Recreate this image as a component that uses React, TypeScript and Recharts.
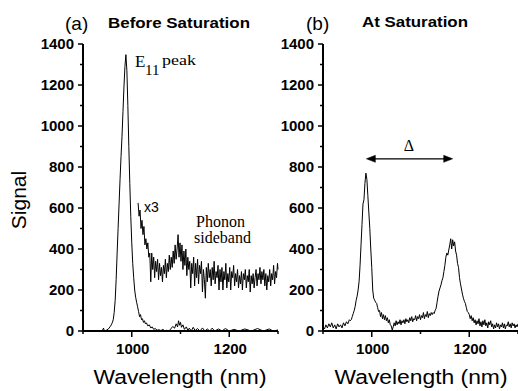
import React from 'react';
import { LineChart, Line, XAxis, YAxis, ReferenceLine, ReferenceDot } from 'recharts';

const wavelengthTicks = [900, 1000, 1100, 1200, 1300];
const majorWavelengthTicks = [1000, 1200];
const signalTicks = [0, 100, 200, 300, 400, 500, 600, 700, 800, 900, 1000, 1100, 1200, 1300, 1400];
const majorSignalTicks = [0, 200, 400, 600, 800, 1000, 1200, 1400];

// Panel (a): E11 emission before saturation
const beforeSaturation: [number, number][] = [
  [900, 0], [905, 2], [910, 0], [915, 1], [920, 0], [925, 2], [930, 0], [935, 1], [940, 3], [942, 14], [944, 0],
  [948, 4], [952, 10], [956, 22], [958, 30], [960, 40], [962, 55], [964, 90], [966, 150], [968, 250], [970, 380],
  [972, 500], [974, 620], [976, 740], [978, 850], [980, 950], [982, 1070], [984, 1190], [986, 1290], [988, 1348],
  [990, 1270], [992, 1100], [994, 900], [996, 720], [998, 560], [1000, 430], [1002, 330], [1004, 260], [1006, 200],
  [1008, 165], [1010, 140], [1012, 118], [1014, 95], [1016, 70], [1018, 80], [1020, 55], [1022, 60], [1024, 42],
  [1026, 50], [1028, 35], [1030, 40], [1033, 25], [1036, 30], [1039, 15], [1042, 20], [1045, 8], [1048, 12],
  [1052, 4], [1056, 6], [1060, 2], [1064, 8], [1068, 0], [1072, 4], [1076, 0], [1080, 10], [1084, 22], [1088, 14],
  [1091, 35], [1094, 20], [1096, 50], [1098, 28], [1100, 42], [1102, 18], [1105, 30], [1108, 8], [1112, 20],
  [1115, 3], [1118, 14], [1122, 0], [1126, 18], [1130, 2], [1135, 12], [1140, 0], [1145, 15], [1150, 0], [1155, 10],
  [1160, 0], [1165, 14], [1170, 0], [1178, 10], [1185, 0], [1192, 12], [1200, 0], [1210, 8], [1220, 0], [1232, 10],
  [1245, 0], [1258, 12], [1270, 0], [1282, 10], [1290, 0], [1300, 5],
];

// Panel (a): phonon sideband magnified x3
const phononSidebandX3: [number, number][] = [
  [1013, 625], [1015, 560], [1017, 590], [1019, 500], [1021, 540], [1023, 470], [1025, 510], [1027, 420], [1029, 450],
  [1031, 400], [1033, 430], [1035, 360], [1037, 380], [1039, 240], [1041, 380], [1043, 300], [1045, 360], [1047, 260],
  [1049, 340], [1051, 290], [1053, 350], [1055, 250], [1057, 330], [1059, 270], [1061, 310], [1063, 240], [1065, 320],
  [1067, 280], [1069, 350], [1071, 260], [1073, 330], [1075, 290], [1077, 370], [1079, 300], [1081, 360], [1083, 310],
  [1085, 390], [1087, 330], [1089, 420], [1091, 350], [1093, 400], [1095, 470], [1097, 360], [1099, 430], [1101, 340],
  [1103, 420], [1105, 300], [1107, 390], [1109, 320], [1111, 400], [1113, 270], [1115, 360], [1117, 300], [1119, 340],
  [1121, 210], [1123, 330], [1125, 280], [1127, 360], [1129, 220], [1131, 330], [1133, 260], [1135, 350], [1137, 230],
  [1139, 320], [1141, 280], [1143, 340], [1145, 190], [1147, 300], [1149, 250], [1151, 160], [1153, 310], [1155, 240],
  [1157, 330], [1159, 260], [1161, 300], [1163, 220], [1165, 310], [1167, 250], [1169, 340], [1171, 230], [1173, 290],
  [1175, 260], [1177, 320], [1179, 200], [1181, 300], [1183, 240], [1185, 310], [1187, 200], [1189, 290], [1191, 250],
  [1193, 330], [1195, 210], [1197, 280], [1199, 240], [1201, 310], [1203, 200], [1205, 290], [1207, 260], [1209, 320],
  [1211, 220], [1213, 280], [1215, 240], [1217, 300], [1219, 210], [1221, 270], [1223, 230], [1225, 290], [1227, 200],
  [1229, 280], [1231, 250], [1233, 300], [1235, 210], [1237, 270], [1239, 240], [1241, 300], [1243, 190], [1245, 270],
  [1247, 230], [1249, 280], [1251, 210], [1253, 260], [1255, 300], [1257, 220], [1259, 280], [1261, 250], [1263, 310],
  [1265, 230], [1267, 290], [1269, 250], [1271, 300], [1273, 220], [1275, 280], [1277, 200], [1279, 270], [1281, 240],
  [1283, 300], [1285, 220], [1287, 280], [1289, 250], [1291, 320], [1293, 230], [1295, 290], [1297, 260], [1299, 330],
  [1300, 300],
];

// Panel (b): at saturation
const atSaturation: [number, number][] = [
  [900, 20], [903, 10], [906, 30], [909, 15], [912, 35], [915, 20], [918, 40], [921, 15], [924, 30], [927, 10],
  [930, 35], [933, 20], [936, 30], [939, 15], [942, 40], [945, 25], [948, 45], [951, 35], [954, 55], [956, 50],
  [958, 55], [960, 70], [962, 85], [964, 100], [966, 120], [968, 150], [970, 170], [972, 200], [974, 240], [976, 320],
  [978, 420], [980, 520], [982, 620], [984, 640], [986, 720], [988, 770], [990, 740], [992, 660], [994, 580],
  [996, 500], [998, 400], [1000, 310], [1002, 200], [1004, 160], [1006, 150], [1008, 140], [1010, 135], [1012, 115],
  [1014, 95], [1016, 100], [1018, 70], [1020, 90], [1022, 60], [1024, 80], [1026, 55], [1028, 75], [1030, 50],
  [1032, 65], [1034, 40], [1036, 55], [1038, 30], [1040, 25], [1042, 5], [1044, 20], [1046, 40], [1048, 25],
  [1050, 50], [1052, 30], [1054, 45], [1056, 35], [1058, 55], [1060, 30], [1062, 50], [1064, 40], [1066, 55],
  [1068, 35], [1070, 60], [1072, 45], [1074, 55], [1076, 40], [1078, 65], [1080, 50], [1082, 70], [1084, 45],
  [1086, 60], [1088, 55], [1090, 75], [1092, 50], [1094, 70], [1096, 60], [1098, 80], [1100, 55], [1102, 75],
  [1104, 65], [1106, 90], [1108, 60], [1110, 80], [1112, 70], [1114, 95], [1116, 65], [1118, 85], [1120, 75],
  [1122, 90], [1124, 80], [1126, 90], [1128, 85], [1130, 100], [1132, 110], [1134, 140], [1136, 170], [1138, 195],
  [1140, 210], [1142, 225], [1144, 245], [1146, 260], [1148, 290], [1150, 320], [1152, 360], [1154, 380], [1156, 370],
  [1158, 395], [1160, 420], [1162, 450], [1164, 400], [1166, 445], [1168, 415], [1170, 435], [1172, 390], [1174, 370],
  [1176, 330], [1178, 310], [1180, 260], [1182, 230], [1184, 205], [1186, 180], [1188, 160], [1190, 145], [1192, 135],
  [1194, 115], [1196, 95], [1198, 90], [1200, 80], [1202, 60], [1204, 75], [1206, 50], [1208, 65], [1210, 40],
  [1212, 55], [1214, 30], [1216, 50], [1218, 35], [1220, 60], [1222, 25], [1224, 45], [1226, 20], [1228, 50],
  [1230, 30], [1232, 55], [1234, 25], [1236, 40], [1238, 15], [1240, 45], [1242, 30], [1244, 50], [1246, 20],
  [1248, 35], [1250, 10], [1252, 30], [1254, 15], [1256, 40], [1258, 20], [1260, 35], [1262, 10], [1264, 30],
  [1266, 20], [1268, 40], [1270, 15], [1272, 35], [1274, 10], [1276, 30], [1278, 25], [1280, 45], [1282, 20],
  [1284, 35], [1286, 15], [1288, 40], [1290, 25], [1292, 35], [1294, 15], [1296, 30], [1298, 20], [1300, 35],
];

// Splitting arrow between the two peaks in (b)
const splitStart = 989;
const splitEnd = 1166;
const splitLevel = 840;

const toPoints = (pairs: [number, number][]) => pairs.map(([x, y]) => ({ x, y }));

const SANS = "'Liberation Sans', Arial, Helvetica, sans-serif";
const SERIF = "'Liberation Serif', 'Times New Roman', serif";

const YTick = (props: any) => {
  const { x, y, payload } = props;
  const major = majorSignalTicks.includes(payload.value);
  return (
    <g>
      <line x1={x - (major ? 5 : 3)} x2={x} y1={y} y2={y} stroke="#000" strokeWidth={1.5} />
      {major && (
        <text x={x - 9} y={y + 5} textAnchor="end" fontFamily={SANS} fontWeight="bold" fontSize={15} fill="#000">
          {payload.value}
        </text>
      )}
    </g>
  );
};

const XTick = (props: any) => {
  const { x, y, payload } = props;
  const major = majorWavelengthTicks.includes(payload.value);
  return (
    <g>
      <line x1={x} x2={x} y1={y} y2={y + (major ? 6 : 3)} stroke="#000" strokeWidth={1.5} />
      {major && (
        <text x={x + 1} y={y + 23} textAnchor="middle" fontFamily={SANS} fontWeight="bold" fontSize={15} fill="#000">
          {payload.value}
        </text>
      )}
    </g>
  );
};

const ArrowHead = (dir: number) => (p: any) => {
  const { cx, cy } = p;
  const L = 9;
  const H = 3.5;
  return (
    <polygon
      points={`${cx},${cy} ${cx + dir * L},${cy - H} ${cx + dir * L},${cy + H}`}
      fill="#000"
      stroke="#000"
      strokeWidth={0.5}
    />
  );
};

const axisLineStyle = { stroke: '#000', strokeWidth: 2 };

export default function App() {
  const dataA = toPoints(beforeSaturation);
  const dataSide = toPoints(phononSidebandX3);
  const dataB = toPoints(atSaturation);
  return (
    <div style={{ position: 'absolute', left: 0, top: 0, width: 518, height: 391, background: '#fff', overflow: 'hidden' }}>
      <div style={{ position: 'absolute', left: 0, top: 0 }}>
        <LineChart width={290} height={391} margin={{ top: 44, right: 12, bottom: 0, left: 23 }}>
          <XAxis
            type="number"
            dataKey="x"
            domain={[900, 1300]}
            ticks={wavelengthTicks}
            interval={0}
            height={60}
            tick={<XTick />}
            tickLine={false}
            tickSize={0}
            tickMargin={0}
            axisLine={axisLineStyle}
          />
          <YAxis
            type="number"
            domain={[0, 1400]}
            ticks={signalTicks}
            interval={0}
            width={60}
            tick={<YTick />}
            tickLine={false}
            tickSize={0}
            tickMargin={0}
            axisLine={axisLineStyle}
          />
          <Line data={dataA} dataKey="y" type="linear" stroke="#000" strokeWidth={1} dot={false} isAnimationActive={false} />
          <Line data={dataSide} dataKey="y" type="linear" stroke="#000" strokeWidth={1} dot={false} isAnimationActive={false} />
        </LineChart>
      </div>
      <div style={{ position: 'absolute', left: 260, top: 0 }}>
        <LineChart width={258} height={391} margin={{ top: 44, right: 0, bottom: 0, left: 3 }}>
          <XAxis
            type="number"
            dataKey="x"
            domain={[900, 1300]}
            ticks={wavelengthTicks}
            interval={0}
            height={60}
            tick={<XTick />}
            tickLine={false}
            tickSize={0}
            tickMargin={0}
            axisLine={axisLineStyle}
          />
          <YAxis
            type="number"
            domain={[0, 1400]}
            ticks={signalTicks}
            interval={0}
            width={60}
            tick={<YTick />}
            tickLine={false}
            tickSize={0}
            tickMargin={0}
            axisLine={axisLineStyle}
          />
          <Line data={dataB} dataKey="y" type="linear" stroke="#000" strokeWidth={1} dot={false} isAnimationActive={false} />
          <ReferenceLine
            segment={[{ x: splitStart + 4, y: splitLevel }, { x: splitEnd - 4, y: splitLevel }]}
            stroke="#000"
            strokeWidth={1.2}
          />
          <ReferenceDot x={splitStart} y={splitLevel} r={4} shape={ArrowHead(1)} />
          <ReferenceDot x={splitEnd} y={splitLevel} r={4} shape={ArrowHead(-1)} />
        </LineChart>
      </div>
      <svg width={518} height={391} style={{ position: 'absolute', left: 0, top: 0, pointerEvents: 'none' }}>
        <text x={65} y={30} fontFamily={SANS} fontSize={19} fill="#000">(a)</text>
        <text x={108} y={28} fontFamily={SANS} fontWeight="bold" fontSize={15} fill="#000" textLength={142} lengthAdjust="spacingAndGlyphs">Before Saturation</text>
        <text x={306} y={30} fontFamily={SANS} fontSize={19} fill="#000">(b)</text>
        <text x={362} y={27} fontFamily={SANS} fontWeight="bold" fontSize={15} fill="#000" textLength={106} lengthAdjust="spacingAndGlyphs">At Saturation</text>
        <text transform="translate(26,200) rotate(-90)" textAnchor="middle" fontFamily={SANS} fontSize={21} fill="#000">Signal</text>
        <text x={180} y={384} textAnchor="middle" fontFamily={SANS} fontSize={20} fill="#000" textLength={173} lengthAdjust="spacingAndGlyphs">Wavelength (nm)</text>
        <text x={421} y={384} textAnchor="middle" fontFamily={SANS} fontSize={20} fill="#000" textLength={173} lengthAdjust="spacingAndGlyphs">Wavelength (nm)</text>
        <text x={135} y={67} fontFamily={SERIF} fontSize={17} fill="#000">E</text>
        <text x={145} y={75} fontFamily={SERIF} fontSize={15} fill="#000">11</text>
        <text x={162} y={65} fontFamily={SERIF} fontSize={15} fill="#000" textLength={34} lengthAdjust="spacingAndGlyphs">peak</text>
        <text x={144} y={212} fontFamily={SANS} fontSize={14} fill="#000">x3</text>
        <text x={196} y={227} fontFamily={SERIF} fontSize={16} fill="#000">Phonon</text>
        <text x={194} y={243} fontFamily={SERIF} fontSize={16} fill="#000">sideband</text>
        <text x={409} y={151} textAnchor="middle" fontFamily={SERIF} fontSize={16} fill="#000">Δ</text>
      </svg>
    </div>
  );
}
